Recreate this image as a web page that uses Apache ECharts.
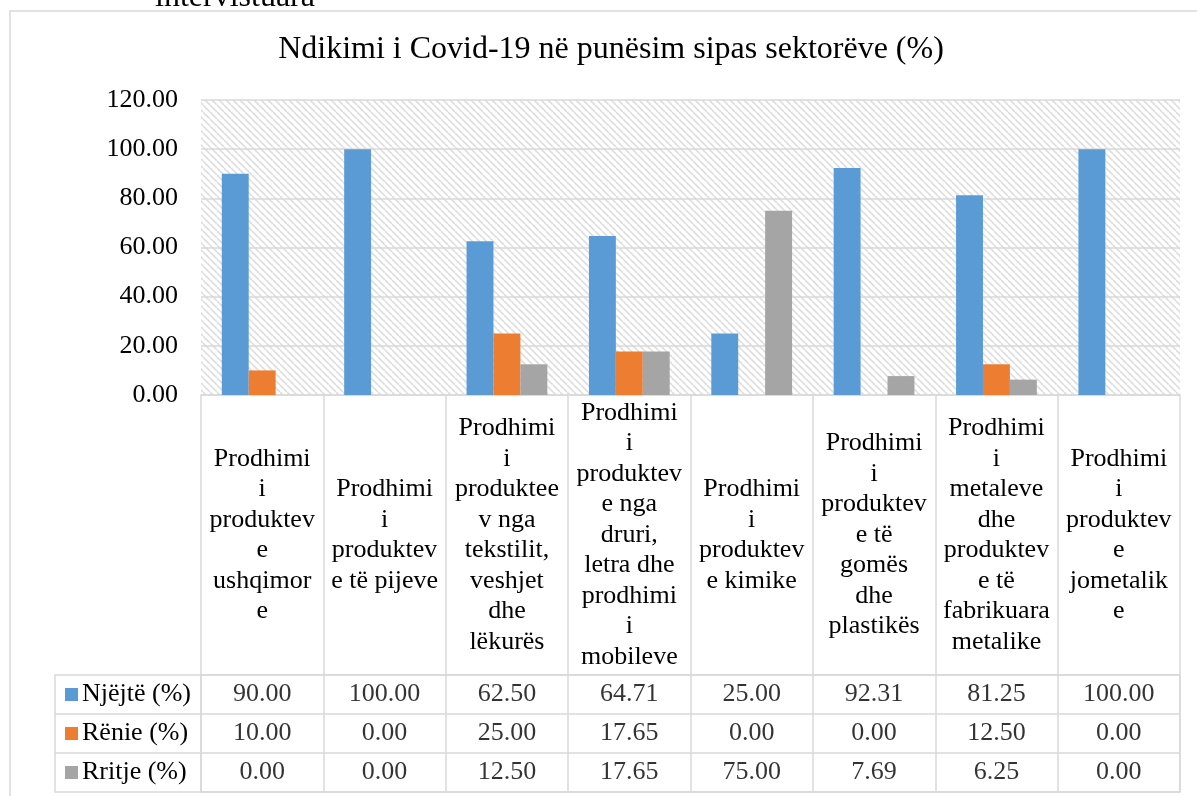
<!DOCTYPE html>
<html>
<head>
<meta charset="UTF-8">
<title>Ndikimi i Covid-19</title>
<script type="text/javascript" src="https://cdn.jsdelivr.net/npm/echarts@6/dist/echarts.min.js"></script>
<style>
html, body { margin: 0; padding: 0; background: #fff; }
#chart { width: 1197px; height: 796px; }
</style>
</head>
<body>
<div id="chart"></div>
<script type="text/javascript">
// kategorite (me ndarje rreshtash si ne tabele)
var categories = [
	"Prodhimi\ni\nproduktev\ne\nushqimor\ne",
	"Prodhimi\ni\nproduktev\ne të pijeve",
	"Prodhimi\ni\nproduktee\nv nga\ntekstilit,\nveshjet\ndhe\nlëkurës",
	"Prodhimi\ni\nproduktev\ne nga\ndruri,\nletra dhe\nprodhimi\ni\nmobileve",
	"Prodhimi\ni\nproduktev\ne kimike",
	"Prodhimi\ni\nproduktev\ne të\ngomës\ndhe\nplastikës",
	"Prodhimi\ni\nmetaleve\ndhe\nproduktev\ne të\nfabrikuara\nmetalike",
	"Prodhimi\ni\nproduktev\ne\njometalik\ne"
];
var seriesNames = ["Njëjtë (%)", "Rënie (%)", "Rritje (%)"];
var njejte = [90.00, 100.00, 62.50, 64.71, 25.00, 92.31, 81.25, 100.00];
var renie = [10.00, 0.00, 25.00, 17.65, 0.00, 0.00, 12.50, 0.00];
var rritje = [0.00, 0.00, 12.50, 17.65, 75.00, 7.69, 6.25, 0.00];
var colors = ["#5B9BD5", "#ED7D31", "#A5A5A5"];
var yTicks = [0, 20, 40, 60, 80, 100, 120];

var FONT = "Liberation Serif";
var FS = 26;
var LINE = "#d9d9d9";

// sfondi me viza diagonale
function makeHatch() {
	var s = 7;
	var c = document.createElement("canvas");
	c.width = s; c.height = s;
	var ctx = c.getContext("2d");
	ctx.fillStyle = "#ffffff";
	ctx.fillRect(0, 0, s, s);
	ctx.strokeStyle = "#dedede";
	ctx.lineWidth = 1.6;
	[-s, 0, s].forEach(function (k) {
		ctx.beginPath();
		ctx.moveTo(k, 0);
		ctx.lineTo(k + s, s);
		ctx.stroke();
	});
	return c;
}

var allData = [njejte, renie, rritje];

var myChart = echarts.init(document.getElementById("chart"));

var series = [];
// shtyllat
allData.forEach(function (arr, i) {
	series.push({
		name: seriesNames[i],
		type: "bar",
		xAxisIndex: 0,
		yAxisIndex: 0,
		data: arr,
		barGap: "0%",
		barCategoryGap: "34%",
		itemStyle: { color: colors[i] }
	});
});
// vlerat ne tabele
allData.forEach(function (arr, i) {
	series.push({
		name: seriesNames[i] + " tbl",
		type: "scatter",
		xAxisIndex: 1,
		yAxisIndex: 1,
		symbolSize: 1,
		itemStyle: { color: "rgba(0,0,0,0)" },
		data: arr.map(function (v, j) { return [j, i, v]; }),
		label: {
			show: true,
			position: "inside",
			color: "#000",
			fontFamily: FONT,
			fontSize: FS,
			formatter: function (p) { return p.value[2].toFixed(2); }
		},
		silent: true
	});
});

var rich = { t: { fontFamily: FONT, fontSize: FS, color: "#000", padding: [0, 0, 0, 4] } };
colors.forEach(function (c, i) {
	rich["s" + i] = { width: 13, height: 13, backgroundColor: c };
});

var option = {
	animation: false,
	backgroundColor: "#fff",
	textStyle: { fontFamily: FONT },
	graphic: [
		{
			type: "rect",
			shape: { x: 10, y: 11, width: 1200, height: 800 },
			style: { fill: "none", stroke: LINE, lineWidth: 1.5 },
			z: 0
		},
		{
			type: "text",
			x: 155,
			y: 14,
			style: {
				text: "intervistuara",
				fontFamily: FONT,
				fontSize: 32,
				fill: "#000",
				verticalAlign: "bottom"
			}
		},
		{
			type: "text",
			x: 611,
			y: 50,
			style: {
				text: "Ndikimi i Covid-19 në punësim sipas sektorëve (%)",
				fontFamily: FONT,
				fontSize: 32,
				fill: "#000",
				align: "center",
				verticalAlign: "middle"
			}
		}
	],
	grid: [
		{
			left: 201, right: 17, top: 100, height: 295,
			show: true,
			borderWidth: 0,
			backgroundColor: { image: makeHatch(), repeat: "repeat" }
		},
		{
			left: 201, right: 17, top: 675, height: 117,
			show: true,
			borderColor: LINE,
			borderWidth: 1.5,
			backgroundColor: "transparent"
		}
	],
	xAxis: [
		{
			type: "category",
			gridIndex: 0,
			data: categories,
			axisLine: { show: true, lineStyle: { color: LINE, width: 1.5 } },
			axisTick: { show: true, length: 280, lineStyle: { color: LINE, width: 1.5 } },
			axisLabel: {
				interval: 0,
				margin: 140,
				verticalAlign: "middle",
				align: "center",
				color: "#000",
				fontFamily: FONT,
				fontSize: FS,
				lineHeight: 30.5
			}
		},
		{
			type: "category",
			gridIndex: 1,
			data: categories,
			axisLine: { show: false },
			axisTick: { show: false },
			axisLabel: { show: false },
			splitLine: { show: true, interval: 0, lineStyle: { color: LINE, width: 1.5 } }
		}
	],
	yAxis: [
		{
			type: "value",
			gridIndex: 0,
			min: yTicks[0],
			max: yTicks[yTicks.length - 1],
			interval: 20,
			axisLine: { show: false },
			axisTick: { show: false },
			axisLabel: {
				margin: 23,
				color: "#000",
				fontFamily: FONT,
				fontSize: FS,
				formatter: function (v) { return v.toFixed(2); }
			},
			splitLine: { show: true, lineStyle: { color: LINE, width: 1.5 } }
		},
		{
			type: "category",
			gridIndex: 1,
			inverse: true,
			data: seriesNames,
			axisLine: { show: false },
			axisTick: { show: true, length: 146, lineStyle: { color: LINE, width: 1.5 } },
			splitLine: { show: true, interval: 0, lineStyle: { color: LINE, width: 1.5 } },
			axisLabel: {
				margin: 136,
				align: "left",
				formatter: function (v, idx) { return "{s" + idx + "|}{t|" + v + "}"; },
				rich: rich
			}
		},
		{
			type: "category",
			gridIndex: 1,
			position: "left",
			offset: 146,
			inverse: true,
			data: seriesNames,
			axisLine: { show: true, lineStyle: { color: LINE, width: 1.5 } },
			axisTick: { show: false },
			axisLabel: { show: false }
		}
	],
	series: series
};

myChart.setOption(option, true);
</script>
</body>
</html>
